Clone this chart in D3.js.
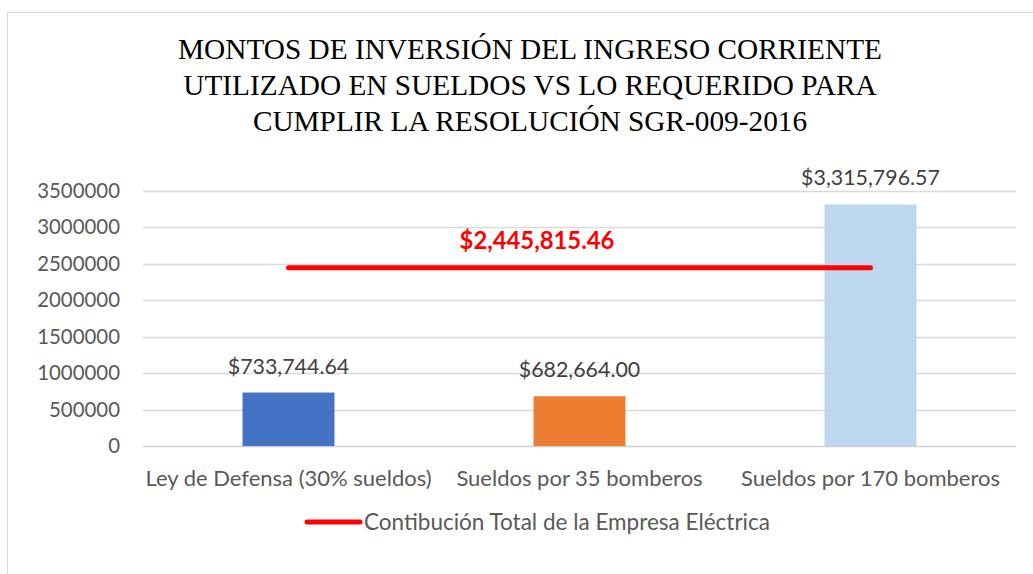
<!DOCTYPE html>
<html><head><meta charset="utf-8">
<script src="https://cdn.jsdelivr.net/npm/d3@7"></script>
<style>body{margin:0;background:#fff}</style>
</head><body>
<svg id="c" width="1033" height="574"></svg>
<script>
const categories = ["Ley de Defensa (30% sueldos)", "Sueldos por 35 bomberos", "Sueldos por 170 bomberos"];
const barValues = [733744.64, 682664.00, 3315796.57];
const barLabels = ["$733,744.64", "$682,664.00", "$3,315,796.57"];
const barColors = ["#4472C4", "#ED7D31", "#BDD7EE"];
const lineValue = 2445815.46;
const lineLabel = "$2,445,815.46";
const lineName = "Contibución Total de la Empresa Eléctrica";
const yTicks = [0, 500000, 1000000, 1500000, 2000000, 2500000, 3000000, 3500000];
const titleLines = ["MONTOS DE INVERSIÓN DEL INGRESO CORRIENTE", "UTILIZADO EN SUELDOS VS LO REQUERIDO PARA", "CUMPLIR LA RESOLUCIÓN SGR-009-2016"];

const svg = d3.select("#c");
const font = "Lato, 'Open Sans', sans-serif";
svg.append("rect").attr("x",7.5).attr("y",12.5).attr("width",1040).attr("height",600)
  .attr("fill","#fff").attr("stroke","#d9d9d9");

const x = d3.scaleBand().domain(categories).range([143,1016]).paddingInner(0.684).paddingOuter(0.342);
const y = d3.scaleLinear().domain([0,3500000]).range([446,191]);

svg.selectAll("text.title").data(titleLines).join("text").attr("class","title")
  .attr("x",530).attr("y",(d,i)=>59+i*36).attr("text-anchor","middle")
  .attr("font-family","'Liberation Serif', 'Times New Roman', serif").attr("font-size",29.3).attr("fill","#000").text(d=>d);

// gridlines
svg.append("g").selectAll("line").data(yTicks).join("line")
  .attr("x1",143).attr("x2",1016).attr("y1",d=>Math.round(y(d))+0.5).attr("y2",d=>Math.round(y(d))+0.5)
  .attr("stroke",d=>d===0?"#d0d0d0":"#d9d9d9").attr("stroke-width",1.3);

// y axis labels
const yAxis = d3.axisLeft(y).tickValues(yTicks).tickSize(0).tickPadding(0).tickFormat(d3.format("d"));
const ga = svg.append("g").attr("transform","translate(120,0)").call(yAxis);
ga.select(".domain").remove();
ga.selectAll("text").attr("font-family",font).attr("font-size",20.4).attr("fill","#595959");

// bars
svg.selectAll("rect.bar").data(categories).join("rect").attr("class","bar")
  .attr("x",d=>x(d)).attr("width",x.bandwidth())
  .attr("y",(d,i)=>y(barValues[i])).attr("height",(d,i)=>y(0)-y(barValues[i]))
  .attr("fill",(d,i)=>barColors[i]);

svg.selectAll("text.bl").data(categories).join("text").attr("class","bl")
  .attr("x",d=>x(d)+x.bandwidth()/2).attr("y",(d,i)=>y(barValues[i])-19)
  .attr("text-anchor","middle").attr("font-family",font).attr("font-size",21.4).attr("fill","#404040")
  .text((d,i)=>barLabels[i]);

// x axis labels
const xAxis = d3.axisBottom(x).tickSize(0).tickPadding(0);
const gx = svg.append("g").attr("transform","translate(0,470)").call(xAxis);
gx.select(".domain").remove();
gx.selectAll("text").attr("font-family",font).attr("font-size",22).attr("fill","#595959");

// red line
const c0 = x(categories[0])+x.bandwidth()/2, c2 = x(categories[2])+x.bandwidth()/2;
svg.append("line").attr("x1",c0).attr("x2",c2).attr("y1",y(lineValue)).attr("y2",y(lineValue))
  .attr("stroke","#FF0000").attr("stroke-width",5).attr("stroke-linecap","round");
svg.append("text").attr("x",537).attr("y",y(lineValue)-19).attr("text-anchor","middle")
  .attr("font-family",font).attr("font-weight","bold").attr("font-size",23.8).attr("fill","#FF0000").text(lineLabel);

// legend
svg.append("line").attr("x1",307).attr("x2",360).attr("y1",522).attr("y2",522)
  .attr("stroke","#FF0000").attr("stroke-width",5).attr("stroke-linecap","round");
svg.append("text").attr("x",364).attr("y",530).attr("font-family",font).attr("font-size",22.5).attr("fill","#595959").text(lineName);
</script>
</body></html>
